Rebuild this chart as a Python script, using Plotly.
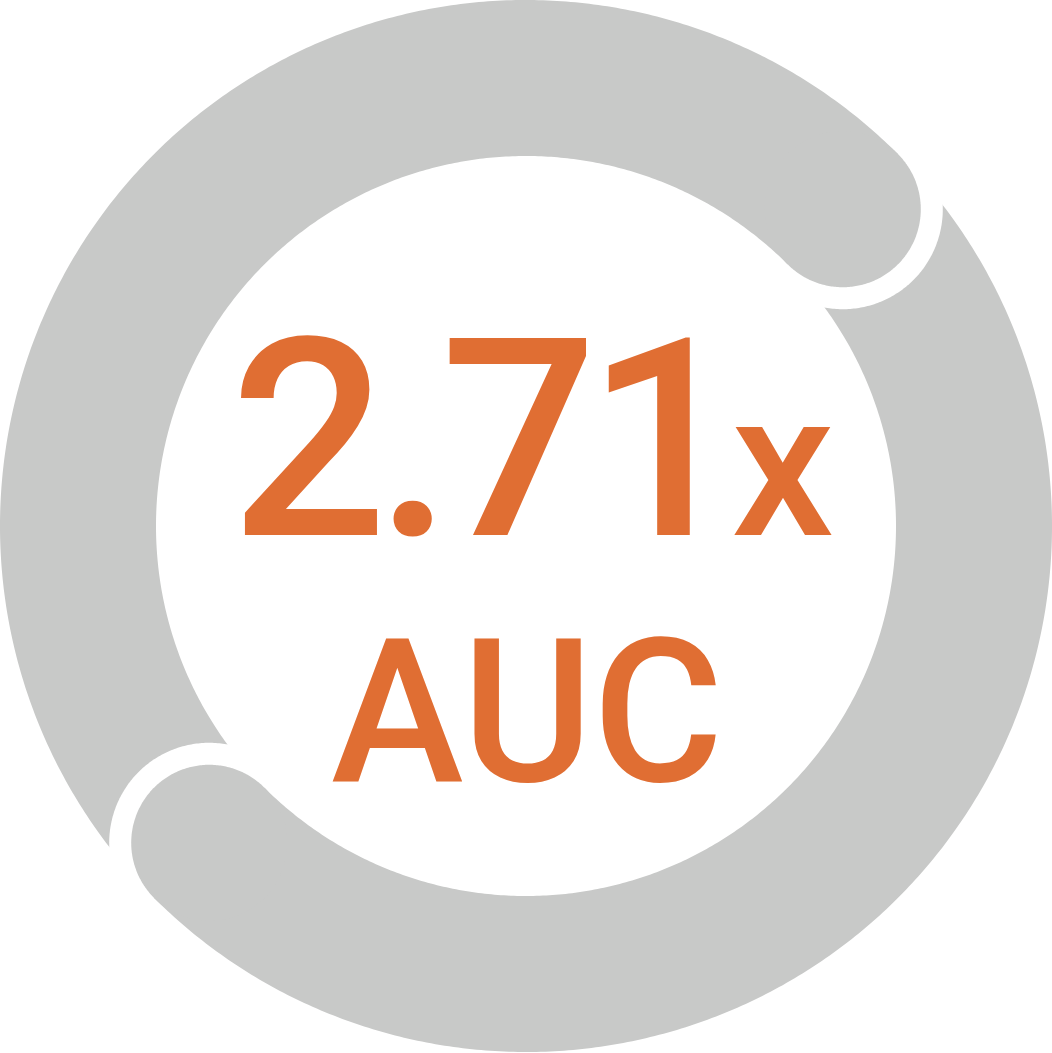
import numpy as np
import plotly.graph_objects as go

# canvas (data units = pixels)
W, H = 1052, 1053
CX, CY = 526, 526

# ring made of two arcs, angles in degrees (0 = right, counter-clockwise)
arc_start_deg = [45, 225]
arc_end_deg = [225, 405]
ring_outer = 526
ring_inner = 370
cap_gap = 22

# labels
value_label = "2.71"
unit_label = "x"
metric_label = "AUC"

GREY = '#C8C9C8'
ORANGE = '#E06E33'
FONT = 'Roboto'


def to_screen(r, a):
    a = np.radians(a)
    return CX + r * np.cos(a), CY - r * np.sin(a)


def sector(r1, r2, a0, a1, n=360):
    t = np.linspace(a0, a1, n)
    xo, yo = to_screen(r2, t)
    xi, yi = to_screen(r1, t[::-1])
    return np.r_[xo, xi], np.r_[yo, yi]


def cap(a, rc, full=False, n=180):
    # disk at the arc start; half version bulges clockwise only
    rm = (ring_outer + ring_inner) / 2
    cx, cy = to_screen(rm, a)
    ar = np.radians(a)
    u = np.array([np.cos(ar), -np.sin(ar)])   # radial (screen)
    t = np.array([np.sin(ar), np.cos(ar)])    # clockwise tangent (screen)
    phi = np.linspace(0, 2 * np.pi if full else np.pi, n * (2 if full else 1))
    xs = cx + rc * (np.cos(phi) * u[0] + np.sin(phi) * t[0])
    ys = cy + rc * (np.cos(phi) * u[1] + np.sin(phi) * t[1])
    return xs, ys


def blob(xs, ys, color):
    return go.Scatter(x=xs, y=ys, mode='lines', fill='toself',
                      fillcolor=color, line=dict(width=0, simplify=False),
                      hoverinfo='skip', showlegend=False)


fig = go.Figure()

for a0, a1 in zip(arc_start_deg, arc_end_deg):
    xs, ys = sector(ring_inner, ring_outer, a0, a1)
    fig.add_trace(blob(xs, ys, GREY))

half_w = (ring_outer - ring_inner) / 2
for a0 in arc_start_deg:
    fig.add_trace(blob(*cap(a0, half_w + cap_gap), 'white'))
    fig.add_trace(blob(*cap(a0, half_w, full=True), GREY))

# big number with a smaller unit, then the metric name
big, small = 277, 205
line1 = (f"<span style='letter-spacing:-12px'>{value_label}</span>"
         f"<span style='font-size:{small}px'>{unit_label}</span>")
fig.add_annotation(x=532, y=537 - 0.35 * big, xref='x', yref='y', text=line1,
                   showarrow=False, xanchor='center', yanchor='middle',
                   font=dict(family=FONT, size=big, color=ORANGE, weight=500))
fig.add_annotation(x=527, y=782 - 0.35 * 200, xref='x', yref='y', text=metric_label,
                   showarrow=False, xanchor='center', yanchor='middle',
                   font=dict(family=FONT, size=200, color=ORANGE, weight=500))

fig.update_layout(
    width=W, height=H,
    margin=dict(l=0, r=0, t=0, b=0),
    paper_bgcolor='white', plot_bgcolor='white',
    xaxis=dict(range=[0, W], visible=False, fixedrange=True),
    yaxis=dict(range=[H, 0], visible=False, fixedrange=True),
)

fig.write_html("out.html", config={'displayModeBar': False},
               post_script="document.body.style.margin='0';document.body.style.overflow='hidden';")
